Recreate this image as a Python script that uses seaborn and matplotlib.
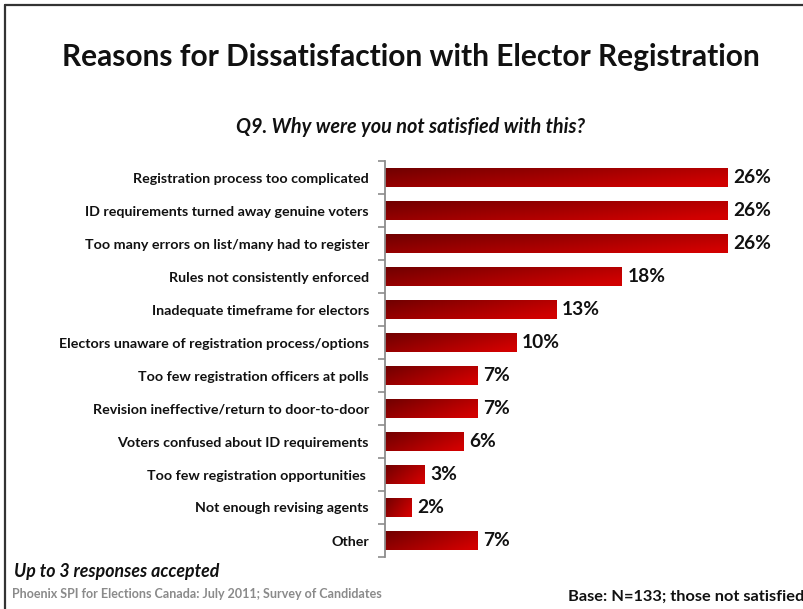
import numpy as np
import pandas as pd
import matplotlib
matplotlib.use("Agg")
import matplotlib.pyplot as plt
from matplotlib.lines import Line2D
import seaborn as sns

categories = [
    "Registration process too complicated",
    "ID requirements turned away genuine voters",
    "Too many errors on list/many had to register",
    "Rules not consistently enforced",
    "Inadequate timeframe for electors",
    "Electors unaware of registration process/options",
    "Too few registration officers at polls",
    "Revision ineffective/return to door-to-door",
    "Voters confused about ID requirements",
    "Too few registration opportunities ",
    "Not enough revising agents",
    "Other",
]
values = [26, 26, 26, 18, 13, 10, 7, 7, 6, 3, 2, 7]

title = "Reasons for Dissatisfaction with Elector Registration"
subtitle = "Q9. Why were you not satisfied with this?"
note = "Up to 3 responses accepted"
source = "Phoenix SPI for Elections Canada: July 2011; Survey of Candidates"
base = "Base: N=133; those not satisfied"

df = pd.DataFrame({"reason": categories, "pct": values})

sns.set_theme(style="white")
plt.rcParams["font.family"] = ["Lato", "DejaVu Sans"]

fig = plt.figure(figsize=(8.04, 6.09), dpi=100)
ax = fig.add_axes([385 / 804, 52 / 609, 395 / 804, 396 / 609])

sns.barplot(data=df, x="pct", y="reason", orient="h", ax=ax,
            width=0.57, color="#b00000", saturation=1)

# diagonal dark-to-bright red gradient inside each bar
dark = np.array([0.44, 0.0, 0.0])
bright = np.array([0.82, 0.0, 0.0])
gx = np.linspace(0, 1, 200)[None, :]
gy = np.linspace(0, 1, 40)[:, None]
t = np.clip(0.72 * gx + 0.38 * gy, 0, 1)
grad = dark[None, None, :] * (1 - t[..., None]) + bright[None, None, :] * t[..., None]

for bar in ax.patches:
    x0, y0 = bar.get_x(), bar.get_y()
    w, h = bar.get_width(), bar.get_height()
    im = ax.imshow(grad, extent=(x0, x0 + w, y0 + h, y0), origin="upper",
                   aspect="auto", interpolation="bilinear", zorder=2)
    im.set_clip_path(bar)
    bar.set_facecolor("none")
    bar.set_edgecolor("none")
    ax.text(x0 + w + 0.42, y0 + h / 2, f"{int(round(w))}%", va="center",
            ha="left", fontsize=13.8, fontweight="bold", color="#111111")

ax.set_xlim(0, 30)
ax.set_ylim(len(categories) - 0.5, -0.5)
ax.set_xlabel("")
ax.set_ylabel("")
ax.set_xticks([])
for side in ("top", "right", "bottom"):
    ax.spines[side].set_visible(False)
ax.spines["left"].set_color("#8c8c8c")
ax.spines["left"].set_linewidth(1.3)

ax.tick_params(axis="y", which="major", length=0, pad=11.5,
               labelsize=10.3, labelcolor="#111111")
for lab in ax.get_yticklabels():
    lab.set_fontweight("bold")
ax.set_yticks(np.arange(-0.5, len(categories), 1.0), minor=True)
ax.tick_params(axis="y", which="minor", length=5, width=1.2, color="#8c8c8c",
               left=True)

fig.text(411 / 804, 1 - 57 / 609, title, ha="center", va="center",
         fontsize=21.5, fontweight="bold", color="#111111")
fig.text(411 / 804, 1 - 127 / 609, subtitle, ha="center", va="center",
         fontsize=14.3, fontweight="bold", style="italic", color="#111111")
fig.text(14 / 804, 1 - 572 / 609, note, ha="left", va="center",
         fontsize=12.8, fontweight="bold", style="italic", color="#111111")
fig.text(12 / 804, 1 - 594 / 609, source, ha="left", va="center",
         fontsize=9.0, fontweight="bold", color="#8a8a8a")
fig.text(568 / 804, 1 - 597 / 609, base, ha="left", va="center",
         fontsize=11.8, fontweight="bold", color="#111111")

# slide frame along the top and left edges
fig.add_artist(Line2D([5 / 804, 5 / 804], [0, 1 - 5 / 609],
                      color="#333333", linewidth=1.6))
fig.add_artist(Line2D([5 / 804, 1], [1 - 5 / 609, 1 - 5 / 609],
                      color="#333333", linewidth=1.6))

fig.savefig("out.png", dpi=100)
